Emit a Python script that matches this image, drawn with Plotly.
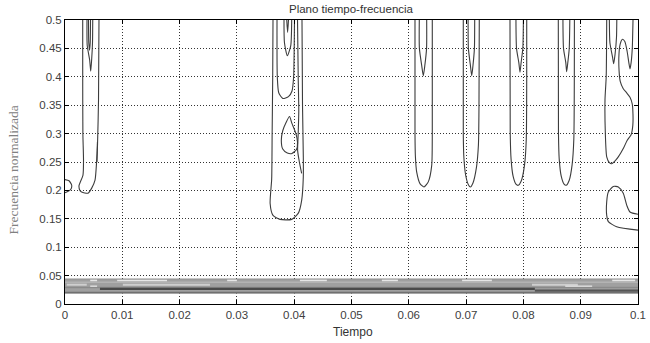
import plotly.graph_objects as go

# ---- tick values / labels ----
x_ticks = [0, 0.01, 0.02, 0.03, 0.04, 0.05, 0.06, 0.07, 0.08, 0.09, 0.1]
y_ticks = [0, 0.05, 0.1, 0.15, 0.2, 0.25, 0.3, 0.35, 0.4, 0.45, 0.5]

# ---- contour paths: (tiempo, frecuencia) ----
edge_loop = [(0, 0.219), (0.0007, 0.217), (0.00117, 0.209), (0.0010, 0.2016), (0.0003, 0.197), (0, 0.196)]

blob_a_outer = [(0.00309, 0.5), (0.00309, 0.40), (0.00312, 0.30), (0.00323, 0.253), (0.00314, 0.227),
                (0.00244, 0.208), (0.00260, 0.200), (0.00291, 0.197), (0.00401, 0.195), (0.00466, 0.204),
                (0.00524, 0.218), (0.00553, 0.253), (0.00567, 0.279), (0.00585, 0.36), (0.00593, 0.5)]
blob_a_inner = [(0.00384, 0.5), (0.00388, 0.455), (0.00430, 0.43), (0.00449, 0.41), (0.00465, 0.43),
                (0.00480, 0.46), (0.00484, 0.5)]
blob_a_core = [(0.00410, 0.5), (0.00415, 0.46), (0.00428, 0.447), (0.00440, 0.46), (0.00445, 0.5)]
blob_a_mark = [(0.00558, 0.25), (0.00566, 0.285)]

blob_b_outer = [(0.03630, 0.5), (0.03625, 0.40), (0.03615, 0.30), (0.03607, 0.22), (0.03580, 0.177),
                (0.03630, 0.156), (0.03752, 0.149), (0.03956, 0.149), (0.04072, 0.160), (0.04131, 0.183),
                (0.04159, 0.224), (0.04159, 0.26), (0.04145, 0.35), (0.04136, 0.5)]
blob_b_mid = [(0.03700, 0.5), (0.03705, 0.40), (0.03730, 0.372), (0.03800, 0.362), (0.03900, 0.365),
              (0.03962, 0.375), (0.03990, 0.40), (0.04000, 0.45), (0.04005, 0.5)]
blob_b_inner = [(0.03822, 0.5), (0.03830, 0.46), (0.03880, 0.437), (0.03940, 0.455), (0.03956, 0.5)]
blob_b_core = [(0.03870, 0.5), (0.03885, 0.478), (0.03900, 0.5)]
blob_b_loop = [(0.03918, 0.330), (0.03960, 0.318), (0.04030, 0.300), (0.04058, 0.285), (0.04040, 0.272),
               (0.03960, 0.265), (0.03880, 0.266), (0.03800, 0.273), (0.03775, 0.288), (0.03800, 0.305),
               (0.03860, 0.320), (0.03918, 0.330)]
blob_b_right = [(0.04058, 0.5), (0.04070, 0.40), (0.04080, 0.34), (0.04070, 0.30), (0.04060, 0.27),
                (0.04090, 0.25), (0.04130, 0.23)]

blob_c_outer = [(0.06108, 0.5), (0.06108, 0.30), (0.06115, 0.26), (0.06138, 0.232), (0.06195, 0.212),
                (0.06265, 0.206), (0.06340, 0.215), (0.06400, 0.244), (0.06410, 0.30), (0.06410, 0.5)]
blob_c_inner = [(0.06183, 0.5), (0.06185, 0.45), (0.06225, 0.42), (0.06253, 0.402), (0.06280, 0.42),
                (0.06310, 0.45), (0.06312, 0.5)]

blob_d_outer = [(0.06951, 0.5), (0.06951, 0.30), (0.06960, 0.26), (0.06990, 0.228), (0.07040, 0.210),
                (0.07075, 0.206), (0.07120, 0.213), (0.07180, 0.240), (0.07215, 0.28), (0.07225, 0.35),
                (0.07230, 0.5)]
blob_d_inner = [(0.07035, 0.5), (0.07040, 0.45), (0.07075, 0.42), (0.07098, 0.402), (0.07120, 0.42),
                (0.07145, 0.45), (0.07150, 0.5)]

blob_e_outer = [(0.07766, 0.5), (0.07770, 0.30), (0.07785, 0.255), (0.07820, 0.225), (0.07870, 0.211),
                (0.07911, 0.209), (0.07960, 0.216), (0.08020, 0.245), (0.08050, 0.29), (0.08058, 0.5)]
blob_e_inner = [(0.07870, 0.5), (0.07880, 0.45), (0.07920, 0.425), (0.07941, 0.408), (0.07960, 0.425),
                (0.07990, 0.45), (0.08000, 0.5)]

blob_f_outer = [(0.08609, 0.5), (0.08612, 0.30), (0.08625, 0.255), (0.08660, 0.225), (0.08710, 0.211),
                (0.08745, 0.209), (0.08800, 0.218), (0.08850, 0.245), (0.08880, 0.29), (0.08890, 0.5)]
blob_f_inner = [(0.08690, 0.5), (0.08700, 0.45), (0.08740, 0.425), (0.08755, 0.409), (0.08775, 0.425),
                (0.08800, 0.45), (0.08810, 0.5)]

blob_g_outer = [(0.09454, 0.5), (0.09445, 0.40), (0.09424, 0.36), (0.09430, 0.30), (0.09454, 0.259),
                (0.09500, 0.249), (0.09541, 0.247), (0.09600, 0.252), (0.09656, 0.259), (0.09750, 0.275),
                (0.09810, 0.288), (0.09880, 0.298), (0.09910, 0.315), (0.09912, 0.335), (0.09900, 0.352),
                (0.09860, 0.364), (0.09800, 0.372), (0.09743, 0.379), (0.09690, 0.392), (0.09670, 0.41),
                (0.09668, 0.44), (0.09690, 0.458), (0.09730, 0.466), (0.09770, 0.462), (0.09810, 0.445),
                (0.09840, 0.425), (0.09860, 0.414), (0.09880, 0.425), (0.09900, 0.45), (0.09913, 0.5)]
blob_g_inner = [(0.09500, 0.5), (0.09510, 0.46), (0.09555, 0.435), (0.09575, 0.423), (0.09600, 0.44),
                (0.09625, 0.47), (0.09630, 0.5)]
blob_g_low = [(0.1, 0.158), (0.0986, 0.162), (0.09803, 0.174), (0.09743, 0.195), (0.09656, 0.206),
              (0.09569, 0.207), (0.09482, 0.197), (0.09454, 0.18), (0.09454, 0.156), (0.09482, 0.145),
              (0.09628, 0.136), (0.1, 0.130)]

contours = [edge_loop, blob_a_outer, blob_a_inner, blob_a_core, blob_a_mark,
            blob_b_outer, blob_b_mid, blob_b_inner, blob_b_core, blob_b_loop, blob_b_right,
            blob_c_outer, blob_c_inner, blob_d_outer, blob_d_inner,
            blob_e_outer, blob_e_inner, blob_f_outer, blob_f_inner,
            blob_g_outer, blob_g_inner, blob_g_low]

# ---- low-frequency band (horizontal contours) ----
band_t = [0, 0.1]
band_low = 0.019
band_high = 0.044
light_top_t = [0.0044, 0.0056, None, 0.0091, 0.0178, None, 0.0283, 0.0300, None, 0.0410, 0.0457, None,
               0.0553, 0.0581, None, 0.0693, 0.0745, None, 0.0955, 0.0995]
light_top_f = 0.0415
light_mid_t = [0.0003, 0.0038, None, 0.0101, 0.0253, None, 0.0815, 0.0895]
light_mid_f = 0.034
white_mid_t = [0.0044, 0.0056, None, 0.0873, 0.0920]
white_mid_f = 0.031
dark_t = [0.0061, 0.0820]
dark_f = 0.0265
dark2_t = [0.0820, 0.1]
dark2_f = 0.0235
edge_low_f = 0.0205

fig = go.Figure()

# band fill
fig.add_trace(go.Scatter(x=band_t, y=[band_low] * len(band_t), mode="lines",
                         line=dict(color="#8c8c8c", width=1), hoverinfo="skip", showlegend=False))
fig.add_trace(go.Scatter(x=band_t, y=[band_high] * len(band_t), mode="lines", fill="tonexty",
                         fillcolor="#a0a0a0", line=dict(color="#8f8f8f", width=1),
                         hoverinfo="skip", showlegend=False))


def hline(ts, fval, color, width):
    ys = [None if t is None else fval for t in ts]
    fig.add_trace(go.Scatter(x=ts, y=ys, mode="lines", line=dict(color=color, width=width),
                             hoverinfo="skip", showlegend=False, connectgaps=False))


hline(band_t, 0.0385, "#b3b3b3", 1.5)
hline(light_top_t, light_top_f, "#e6e6e6", 1.6)
hline(light_mid_t, light_mid_f, "#cfcfcf", 2)
hline(white_mid_t, white_mid_f, "#f0f0f0", 1.6)
hline(band_t, 0.029, "#8a8a8a", 1.5)
hline(dark_t, dark_f, "#4a4a4a", 2.2)
hline(dark2_t, dark2_f, "#555555", 2.2)
hline(band_t, edge_low_f, "#707070", 1.2)

for path in contours:
    fig.add_trace(go.Scatter(x=[p[0] for p in path], y=[p[1] for p in path], mode="lines",
                             line=dict(color="#3c3c3c", width=1.1, shape="spline", smoothing=0.6),
                             hoverinfo="skip", showlegend=False))

axis_common = dict(showline=True, linecolor="black", linewidth=1, mirror="ticks",
                   ticks="inside", ticklen=4, tickcolor="black",
                   showgrid=True, gridcolor="rgba(0,0,0,0.8)", gridwidth=1, griddash="1px,2px",
                   zeroline=False, automargin=False,
                   tickfont=dict(family="Liberation Sans, Arial, sans-serif", size=11.5, color="#404040"))

fig.update_xaxes(range=[0, 0.1], tickvals=x_ticks, ticktext=[f"{v:g}" for v in x_ticks], **axis_common)
fig.update_yaxes(range=[0, 0.5], tickvals=y_ticks, ticktext=[f"{v:g}" for v in y_ticks], **axis_common)

fig.update_layout(
    width=650, height=343,
    margin=dict(l=65, r=12, t=20, b=39),
    paper_bgcolor="white", plot_bgcolor="white",
    annotations=[
        dict(text="Plano tiempo-frecuencia", xref="paper", yref="paper", x=0.5, y=1.0 + 11 / 284.5,
             xanchor="center", yanchor="middle", showarrow=False,
             font=dict(family="Liberation Sans, Arial, sans-serif", size=11.5, color="#333333")),
        dict(text="Tiempo", xref="paper", yref="paper", x=0.502, y=-28 / 284.5,
             xanchor="center", yanchor="middle", showarrow=False,
             font=dict(family="Liberation Sans, Arial, sans-serif", size=12, color="#333333")),
        dict(text="Frecuencia normalizada", xref="paper", yref="paper", x=-51 / 573, y=0.47,
             xanchor="center", yanchor="middle", textangle=-90, showarrow=False,
             font=dict(family="Liberation Serif, Times New Roman, serif", size=13.5, color="#808080")),
    ],
)

fig.write_html("out.html", config={"displayModeBar": False},
               post_script="document.body.style.margin='0';")
